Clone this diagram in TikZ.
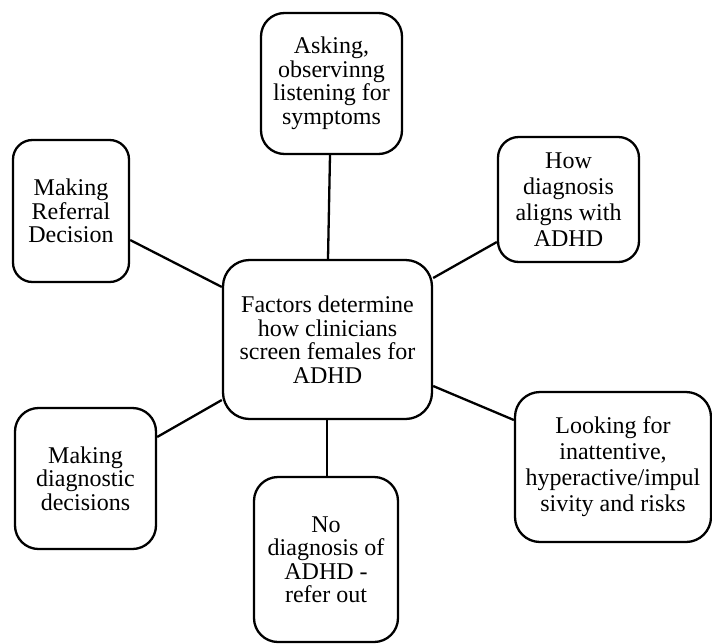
\documentclass[tikz,border=0pt]{standalone}
\usepackage{fontspec}
\setmainfont{Liberation Serif}
\usetikzlibrary{calc}
\begin{document}
\begin{tikzpicture}[x=0.5pt,y=-0.5pt,
  box/.style={draw=black, line width=1.15pt, fill=white, align=center, inner sep=0pt,
    font=\fontsize{12pt}{11.75pt}\selectfont},
  widebox/.style={box, font=\fontsize{12pt}{13pt}\selectfont},
  link/.style={draw=black, line width=1.15pt}]
\useasboundingbox (0,0) rectangle (712,643);
\fill[white] (0,0) rectangle (712,643);

\node[box, minimum width=70.5pt, minimum height=70.5pt, rounded corners=11.75pt] (T) at (331.5,83.5)
  {Asking,\\observinng\\listening for\\symptoms};
\node[box, minimum width=58pt, minimum height=71pt, rounded corners=9.7pt] (L) at (71,211)
  {Making\\Referral\\Decision};
\node[widebox, minimum width=70.5pt, minimum height=62.5pt, rounded corners=10.4pt] (TR) at (568.5,199.5)
  {How\\diagnosis\\aligns with\\ADHD};
\node[box, minimum width=104.5pt, minimum height=79.5pt, rounded corners=13.25pt] (C) at (327.5,339.5)
  {Factors determine\\how clinicians\\screen females for\\ADHD};
\node[box, minimum width=70.5pt, minimum height=70.5pt, rounded corners=11.75pt] (BL) at (85.5,478.5)
  {Making\\diagnostic\\decisions};
\node[widebox, minimum width=98pt, minimum height=75pt, rounded corners=12.5pt] (R) at (613,467)
  {Looking for\\inattentive,\\hyperactive/impul\\sivity and risks};
\node[box, minimum width=72pt, minimum height=82.5pt, rounded corners=12pt] (B) at (326,559.5)
  {No\\diagnosis of\\ADHD -\\refer out};

\draw[link] ($(T.south)+(-1.5,0)$) -- ($(C.north)+(0.5,0)$);
\draw[link] ($(L.east)+(0,29)$) -- ($(C.west)+(0,-52.5)$);
\draw[link] ($(TR.west)+(0,42.5)$) -- ($(C.east)+(0,-61.5)$);
\draw[link] ($(BL.east)+(0,-41.5)$) -- ($(C.west)+(0,60.5)$);
\draw[link] ($(R.west)+(0,-47)$) -- ($(C.east)+(0,46.5)$);
\draw[link] ($(C.south)+(-0.5,0)$) -- ($(B.north)+(1,0)$);
\end{tikzpicture}
\end{document}
